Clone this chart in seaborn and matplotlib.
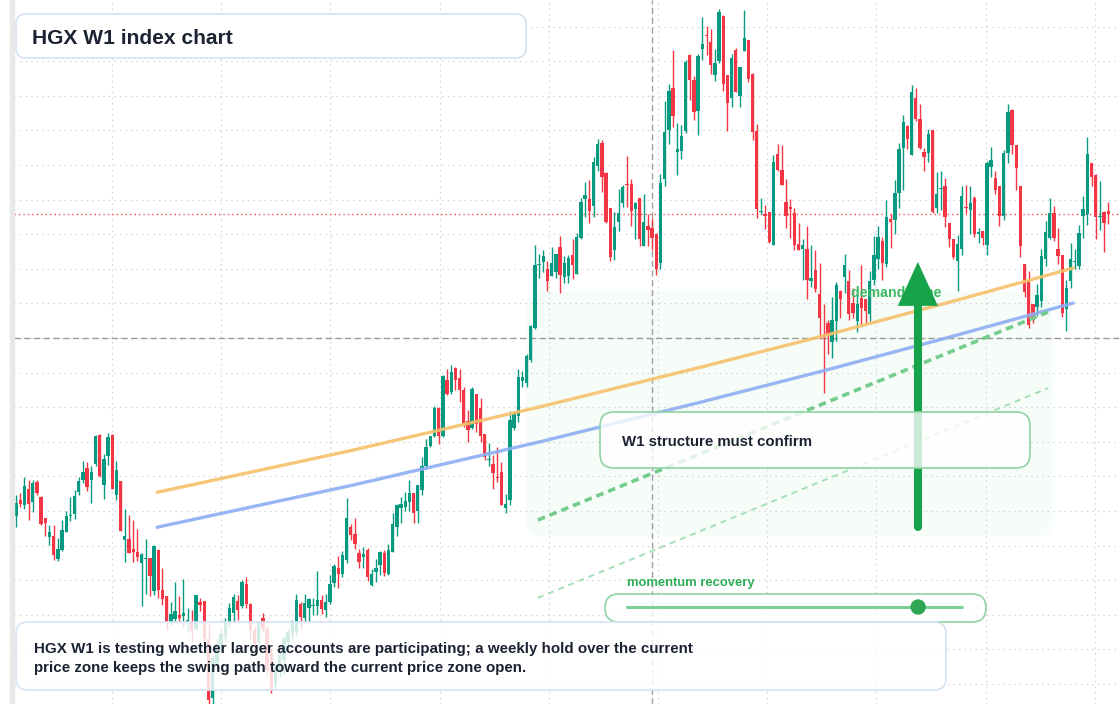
import numpy as np
import pandas as pd
import matplotlib
matplotlib.use("Agg")
import matplotlib.pyplot as plt
from matplotlib.patches import FancyBboxPatch, Polygon, Rectangle, Circle
from matplotlib.lines import Line2D
import seaborn as sns

sns.set_theme(style="white")
plt.rcParams['font.family'] = ['Liberation Sans', 'DejaVu Sans']
plt.rcParams['lines.scale_dashes'] = False


# ===== Weekly candles (index points) =====
opens = [
    378.7, 383.2, 381.6, 386.4, 382.5, 388.5, 384.1, 378.0, 372.6, 372.9,
    366.0, 368.6, 373.8, 378.6, 379.2, 385.4, 389.0, 392.5, 389.0, 393.6,
    401.9, 387.6, 396.0, 401.9, 384.7, 388.7, 371.5, 372.0, 369.0, 368.2,
    365.0, 366.1, 366.3, 357.0, 368.8, 357.2, 355.3, 348.0, 348.7, 350.0,
    349.7, 347.9, 347.9, 346.0, 353.6, 353.9, 343.0, 326.0, 336.0, 341.0,
    344.0, 347.5, 350.5, 354.0, 352.4, 358.9, 353.0, 345.5, 342.0, 349.0,
    346.0, 339.0, 329.6, 333.5, 337.0, 342.0, 344.5, 345.0, 353.1, 349.2,
    351.9, 352.4, 352.4, 354.3, 351.5, 353.6, 359.2, 363.5, 361.9, 365.8,
    375.4, 373.4, 367.9, 366.7, 368.6, 358.7, 362.4, 364.4, 367.8, 361.8,
    368.2, 375.5, 381.0, 381.3, 382.7, 385.3, 380.0, 386.2, 393.1, 398.7,
    401.6, 409.7, 401.6, 418.0, 414.4, 421.2, 418.3, 414.9, 406.0, 404.0,
    413.7, 409.9, 402.2, 394.8, 393.7, 389.8, 391.3, 380.9, 383.3, 404.0,
    407.5, 417.6, 417.1, 423.6, 432.8, 451.0, 451.9, 450.0, 447.8, 449.0,
    456.2, 447.5, 447.9, 454.1, 448.5, 459.0, 470.2, 470.3, 468.2, 479.8,
    486.4, 477.7, 467.5, 455.3, 463.5, 469.0, 474.6, 474.5, 467.2, 470.4,
    456.5, 462.3, 461.7, 460.1, 451.8, 475.9, 490.2, 502.3, 483.8, 484.1,
    489.9, 511.9, 504.5, 495.7, 513.5, 517.6, 515.6, 506.1, 510.0, 523.1,
    506.1, 499.3, 513.2, 499.9, 513.0, 516.0, 506.4, 489.7, 466.5, 465.7,
    466.5, 456.8, 483.2, 478.5, 469.3, 467.7, 466.2, 457.3, 455.8, 455.8,
    446.6, 449.7, 442.7, 431.0, 434.2, 428.8, 434.9, 443.7, 447.6, 446.5,
    440.2, 434.9, 441.7, 441.3, 436.9, 446.8, 452.8, 458.1, 451.5, 464.5,
    464.2, 471.8, 485.0, 491.3, 483.0, 499.5, 493.4, 483.7, 483.5, 490.0,
    467.5, 473.0, 473.8, 463.1, 458.6, 452.2, 455.8, 467.9, 467.0, 470.4,
    460.2, 460.9, 456.8, 479.4, 476.3, 473.9, 465.2, 483.4, 496.0, 485.9,
    474.0, 451.5, 446.4, 439.7, 439.0, 440.6, 452.9, 459.0, 466.0, 455.8,
    453.9, 438.4, 446.4, 451.9, 450.8, 465.4, 465.7, 480.5, 477.0, 465.0,
    466.4, 466.7,
]
highs = [
    384.7, 385.2, 389.9, 389.0, 389.0, 389.0, 384.4, 378.0, 376.0, 376.0,
    372.3, 377.5, 379.9, 384.0, 386.0, 389.8, 394.5, 394.3, 393.1, 401.9,
    402.3, 396.5, 402.5, 402.3, 394.4, 388.7, 380.7, 378.9, 377.5, 374.7,
    368.0, 372.0, 366.4, 370.2, 368.9, 363.6, 355.5, 353.6, 359.5, 355.3,
    360.4, 352.0, 351.5, 355.8, 354.9, 354.0, 347.5, 338.5, 343.0, 346.0,
    349.0, 353.5, 356.0, 355.8, 360.0, 361.0, 353.5, 346.5, 348.2, 350.5,
    347.0, 340.0, 335.5, 339.5, 344.0, 346.0, 348.5, 356.0, 353.6, 356.0,
    354.9, 355.0, 362.6, 355.8, 356.0, 361.6, 364.7, 367.0, 368.4, 383.9,
    376.3, 378.1, 368.9, 369.6, 369.4, 363.1, 366.2, 368.4, 368.8, 370.5,
    379.3, 382.0, 384.1, 385.5, 389.0, 385.3, 387.6, 395.7, 400.7, 401.8,
    410.3, 410.0, 419.2, 420.9, 422.3, 421.6, 420.9, 415.8, 409.1, 415.7,
    413.7, 412.7, 402.2, 399.6, 396.3, 398.4, 394.3, 385.0, 408.9, 408.9,
    421.0, 420.6, 425.3, 433.8, 457.0, 454.3, 455.3, 452.4, 456.3, 454.4,
    459.6, 453.7, 453.9, 458.7, 460.4, 470.5, 475.1, 475.6, 482.2, 487.4,
    487.1, 478.1, 467.5, 466.5, 473.0, 474.3, 482.7, 475.9, 469.3, 470.4,
    471.6, 465.7, 464.8, 460.4, 477.4, 498.6, 503.5, 513.3, 492.2, 491.6,
    510.3, 512.2, 505.7, 512.0, 522.8, 520.3, 519.2, 513.4, 525.1, 523.4,
    506.1, 512.2, 513.7, 508.4, 524.8, 516.0, 506.7, 491.9, 470.6, 468.3,
    466.5, 482.9, 486.1, 485.8, 475.9, 470.3, 467.7, 463.3, 458.6, 462.3,
    457.0, 455.5, 451.7, 439.8, 435.3, 441.9, 446.3, 443.9, 454.4, 449.7,
    444.4, 442.6, 451.0, 441.3, 449.3, 459.4, 462.3, 459.3, 470.0, 465.7,
    475.8, 486.4, 494.5, 491.5, 503.1, 502.4, 497.6, 485.0, 490.5, 490.0,
    477.9, 478.4, 476.2, 463.1, 458.6, 459.7, 473.8, 474.3, 473.8, 470.9,
    461.7, 460.9, 481.1, 485.2, 478.2, 473.9, 484.4, 497.6, 496.3, 485.9,
    474.0, 451.5, 449.3, 439.7, 445.5, 455.6, 463.8, 470.6, 468.1, 461.9,
    453.9, 446.9, 457.5, 455.8, 462.8, 471.0, 488.2, 480.7, 477.3, 475.4,
    466.7, 469.4,
]
lows = [
    375.4, 381.2, 380.6, 377.5, 379.8, 384.7, 376.0, 372.9, 370.2, 365.8,
    365.6, 368.5, 373.8, 377.0, 377.6, 384.6, 388.0, 385.8, 382.4, 393.1,
    389.9, 383.6, 393.3, 386.4, 383.2, 374.3, 365.3, 367.9, 365.2, 365.5,
    352.6, 356.0, 355.3, 355.8, 355.0, 352.9, 345.5, 347.0, 348.0, 347.6,
    346.6, 345.0, 342.2, 345.5, 351.2, 342.0, 323.5, 324.0, 334.0, 339.5,
    342.5, 346.5, 348.0, 348.5, 351.9, 352.0, 343.0, 339.0, 340.5, 345.0,
    333.0, 327.5, 328.5, 332.0, 333.0, 340.5, 343.0, 344.0, 346.1, 347.9,
    347.9, 350.0, 350.0, 350.3, 349.5, 353.0, 358.0, 357.8, 361.0, 365.0,
    371.6, 368.9, 363.6, 363.6, 359.7, 358.4, 359.5, 361.6, 361.3, 361.6,
    368.1, 372.8, 376.6, 380.0, 380.0, 376.6, 376.6, 384.5, 392.1, 398.4,
    401.3, 399.4, 401.3, 413.4, 413.9, 414.9, 411.5, 404.4, 399.9, 403.7,
    402.8, 399.9, 394.8, 393.1, 386.3, 388.3, 381.6, 379.5, 381.6, 403.3,
    405.7, 415.8, 415.8, 423.0, 432.5, 447.3, 449.2, 443.5, 447.8, 447.4,
    443.0, 446.0, 446.0, 447.0, 448.5, 458.7, 465.0, 463.2, 465.0, 478.3,
    472.2, 463.3, 452.4, 452.6, 460.9, 468.0, 468.0, 462.5, 458.6, 456.7,
    456.5, 456.5, 455.5, 448.3, 449.9, 474.0, 486.1, 491.1, 477.2, 481.8,
    489.2, 498.9, 493.1, 488.7, 510.3, 511.9, 506.2, 504.4, 509.6, 501.3,
    489.7, 496.9, 501.1, 496.9, 513.0, 504.0, 487.3, 464.8, 465.8, 461.6,
    457.5, 456.8, 478.2, 474.3, 461.8, 458.9, 455.3, 455.3, 446.8, 441.3,
    444.7, 443.4, 429.8, 414.1, 425.4, 424.3, 429.1, 435.9, 442.9, 435.1,
    435.9, 431.7, 433.9, 434.2, 435.0, 445.3, 450.0, 446.7, 450.5, 455.9,
    460.0, 467.5, 472.8, 484.5, 483.0, 492.7, 484.7, 478.2, 480.9, 466.0,
    466.0, 467.0, 462.1, 456.3, 452.9, 443.5, 454.0, 466.0, 460.0, 459.2,
    457.5, 457.0, 453.9, 476.6, 471.5, 462.3, 464.1, 480.7, 483.2, 472.8,
    453.5, 441.9, 432.9, 434.4, 436.5, 439.0, 450.8, 458.5, 458.0, 451.5,
    436.0, 432.0, 444.5, 449.8, 449.8, 458.9, 462.8, 473.9, 458.5, 461.2,
    454.8, 463.0,
]
closes = [
    382.4, 382.1, 387.3, 382.0, 388.2, 385.1, 376.1, 376.4, 374.0, 367.3,
    369.1, 374.6, 378.6, 378.9, 384.3, 388.7, 391.4, 387.0, 391.4, 401.6,
    390.2, 395.0, 401.5, 386.4, 391.9, 374.3, 372.8, 367.9, 368.2, 366.7,
    367.5, 366.4, 361.1, 369.8, 357.3, 354.7, 347.9, 350.2, 351.0, 349.1,
    350.5, 348.6, 345.2, 355.6, 352.8, 343.0, 325.5, 337.5, 341.5, 344.5,
    348.0, 352.0, 355.2, 351.5, 359.5, 353.1, 345.5, 341.5, 347.6, 346.0,
    334.0, 328.5, 334.5, 338.4, 343.0, 345.0, 347.5, 354.4, 349.5, 353.4,
    354.7, 352.9, 354.3, 351.8, 353.6, 359.0, 364.0, 361.8, 367.4, 378.1,
    373.0, 370.5, 365.3, 367.7, 361.0, 361.8, 363.5, 368.1, 362.1, 368.7,
    376.2, 381.6, 382.0, 382.9, 385.1, 379.5, 387.5, 393.0, 398.4, 401.6,
    409.7, 401.6, 418.9, 413.9, 420.1, 417.8, 415.1, 405.2, 403.3, 415.3,
    405.2, 401.8, 395.5, 394.9, 390.9, 389.6, 381.6, 382.0, 406.4, 408.3,
    418.8, 418.8, 424.9, 433.4, 451.0, 451.5, 453.6, 446.4, 451.8, 454.4,
    448.3, 451.7, 453.0, 451.0, 459.1, 469.3, 471.4, 466.7, 480.8, 486.1,
    476.6, 463.5, 453.3, 462.1, 466.2, 473.7, 474.1, 466.7, 468.9, 458.7,
    463.5, 461.2, 458.9, 449.9, 474.8, 489.5, 501.4, 494.3, 484.6, 488.3,
    509.8, 504.5, 495.2, 511.6, 515.1, 517.3, 508.8, 509.6, 524.2, 503.3,
    498.0, 510.8, 501.1, 508.2, 516.6, 504.8, 489.4, 467.4, 466.8, 465.4,
    457.8, 480.8, 478.5, 474.3, 465.4, 467.4, 456.8, 455.3, 457.0, 446.8,
    447.3, 444.1, 435.8, 430.3, 431.0, 435.1, 445.3, 441.3, 451.2, 436.8,
    437.1, 439.8, 438.8, 437.9, 446.6, 454.1, 459.1, 451.6, 465.1, 463.4,
    471.8, 484.5, 492.5, 487.4, 501.0, 493.4, 485.0, 482.3, 489.1, 466.5,
    471.7, 473.3, 465.0, 458.7, 453.4, 457.1, 471.1, 467.6, 468.9, 460.0,
    460.7, 458.9, 480.6, 481.4, 472.9, 465.2, 483.4, 495.2, 485.8, 479.1,
    456.5, 443.4, 433.9, 435.3, 442.3, 453.7, 460.7, 466.2, 459.0, 453.7,
    437.3, 444.5, 452.7, 452.2, 460.4, 467.2, 483.1, 476.6, 465.0, 465.4,
    463.1, 465.7,
]

# ===== Overlays (week index, index points) =====
trend_weeks = [33.7, 79.8, 125.2, 163.4, 193.5, 223.2, 252.6]
orange_trend = [385.4, 397.4, 410.1, 421.5, 430.8, 440.4, 450.2]
blue_trend = [375.3, 387.3, 400.0, 411.4, 420.7, 430.3, 440.1]
guide_weeks = [124.7, 246.6]
guide_upper = [377.4, 437.5]
guide_lower = [354.9, 415.5]

demand_weeks = (121.9, 247.6)
demand_levels = (372.5, 443.3)
last_level = 465.9
pivot_level = 430.0
pivot_week = 152
arrow_week = 215.5
arrow_from, arrow_to = 375.5, 452.0
momentum = 0.869

title = "HGX W1 index chart"
note = ("HGX W1 is testing whether larger accounts are participating; a weekly hold over the current\n"
        "price zone keeps the swing path toward the current price zone open.")

candles = pd.DataFrame({'open': opens, 'high': highs, 'low': lows, 'close': closes})
candles['week'] = np.arange(len(candles))
candles['up'] = candles['close'] >= candles['open']

UP, DOWN = '#089981', '#f23645'
INK = '#1b2333'
GREEN = '#16a34a'


# ===== Figure / axes =====
W, H = 1120, 704
fig = plt.figure(figsize=(W / 100, H / 100), dpi=100)
fig.patch.set_facecolor('white')
ax = fig.add_axes([14 / W, 0, (W - 14) / W, 1])
ax.set_facecolor('white')
ax.set_xlim(-0.478, 263.8)
ax.set_ylim(324.22, 527.69)
ax.set_yticks(np.arange(330, 521, 10))
ax.set_xticks(22.9 + 26.1 * np.arange(10))
ax.tick_params(length=0, labelleft=False, labelbottom=False)
for s in ax.spines.values():
    s.set_visible(False)
ax.set_axisbelow(True)
ax.grid(True, color='#d0d0d0', lw=0.8, linestyle=(0, (1, 3)))

fig.patches.append(Rectangle((10 / W, 0), 4 / W, 1, transform=fig.transFigure,
                             color='#e8e8e8', zorder=1))

# demand zone
zone = FancyBboxPatch((demand_weeks[0], demand_levels[0]),
                      demand_weeks[1] - demand_weeks[0],
                      demand_levels[1] - demand_levels[0],
                      boxstyle="round,pad=0,rounding_size=3.8", mutation_aspect=1.21,
                      fc='#f6fcf7', ec='none', zorder=0.2)
ax.add_patch(zone)

# reference levels
ax.axhline(last_level, color='#f04b58', lw=1, linestyle=(0, (1, 2.2)), zorder=1)
ax.axhline(pivot_level, color='#9a9a9a', lw=1, linestyle=(0, (4.5, 2.5)), zorder=1)
ax.axvline(pivot_week, color='#a0a0a0', lw=1, linestyle=(0, (4.5, 2.5)), zorder=1)

# candles
colors = np.where(candles['up'], UP, DOWN)
body_lo = np.minimum(candles['open'], candles['close'])
body_h = np.maximum((candles['close'] - candles['open']).abs(), 0.35)
ax.vlines(candles['week'], candles['low'], candles['high'], colors=colors, lw=1.0, zorder=2)
ax.bar(candles['week'], body_h, bottom=body_lo, width=0.8, color=colors,
       linewidth=0, zorder=3)

# trend lines
sns.lineplot(x=trend_weeks, y=orange_trend, ax=ax, color='#f6c06b', lw=2.4, alpha=0.9, zorder=4)
sns.lineplot(x=trend_weeks, y=blue_trend, ax=ax, color='#8caef2', lw=2.4, alpha=0.9, zorder=4)
ax.plot(guide_weeks, guide_upper, color='#74cc8f', lw=2.6, linestyle=(0, (5.5, 3.6)), zorder=4)
ax.plot(guide_weeks, guide_lower, color='#a6dfb6', lw=1.4, linestyle=(0, (4.3, 3.6)), zorder=4)

ax.text(199.5, demand_levels[1] - 0.2, 'demand zone', color='#3cb862', fontsize=10.2,
        fontweight='bold', va='center', ha='left', zorder=4.5)

# arrow
head_half, head_len = 20 / 4.185, 44 / 3.46
ax.plot([arrow_week, arrow_week], [arrow_from, arrow_to - head_len + 0.5], color=GREEN,
        lw=5.8, solid_capstyle='round', zorder=6)
ax.add_patch(Polygon([(arrow_week - head_half, arrow_to - head_len),
                      (arrow_week + head_half, arrow_to - head_len),
                      (arrow_week, arrow_to)], closed=True, color=GREEN, lw=0, zorder=6))


# ===== Boxes and text (pixel layout) =====
def px_box(x0, y0, x1, y1, r, **kw):
    box = FancyBboxPatch((x0 / 100, (H - y1) / 100), (x1 - x0) / 100, (y1 - y0) / 100,
                         boxstyle=f"round,pad=0,rounding_size={r / 100}",
                         transform=fig.dpi_scale_trans, **kw)
    fig.add_artist(box)


def px_text(x, y, s, **kw):
    fig.text(x / W, 1 - y / H, s, va='center', ha='left', zorder=5, **kw)


px_box(16, 14, 526, 58, 10, fc='white', ec='#d5e2f6', lw=1.2, zorder=2)
px_text(32, 38.5, title, fontsize=15.1, fontweight='bold', color=INK)

px_box(600, 412, 1030, 468, 14, fc=(1, 1, 1, 0.78), ec='#8fd3a3', lw=1.2, zorder=2)
px_text(622, 442.5, 'W1 structure must confirm', fontsize=10.8, fontweight='bold', color=INK)

px_box(605, 594, 986, 622, 14, fc=(1, 1, 1, 0.8), ec='#8fd3a3', lw=1.2, zorder=2)
px_text(627, 583, 'momentum recovery', fontsize=9.4, fontweight='bold', color='#2fae58')
fig.add_artist(Line2D([6.27, 9.62], [(H - 607) / 100] * 2, transform=fig.dpi_scale_trans,
                      color='#7dd095', lw=2.2, solid_capstyle='round', zorder=3))
dot_x = 6.27 + momentum * (9.62 - 6.27)
fig.add_artist(Circle((dot_x, (H - 607) / 100), 0.07, transform=fig.dpi_scale_trans,
                      color='#2fa652', zorder=4))

px_box(16, 622, 946, 690, 12, fc=(1, 1, 1, 0.82), ec='#d5e2f6', lw=1.2, zorder=2)
px_text(34, 658.5, note, fontsize=10.9, fontweight='bold', color=INK, linespacing=1.4)

fig.savefig('out.png', dpi=100)
